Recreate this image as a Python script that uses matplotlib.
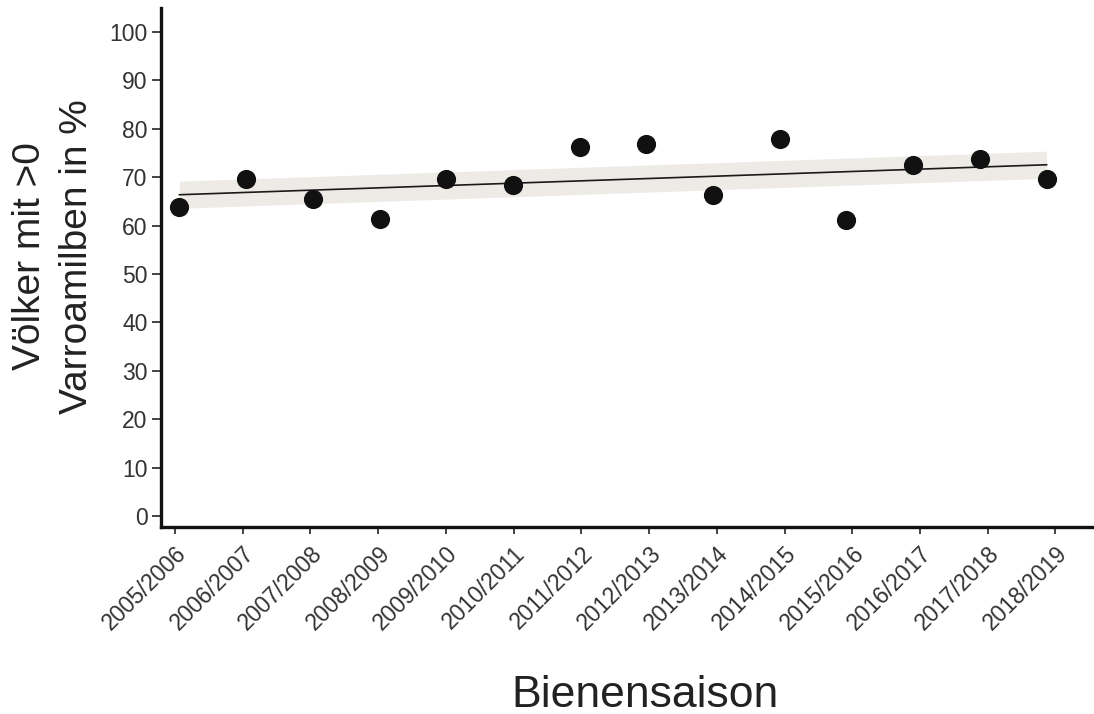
import numpy as np
import matplotlib
matplotlib.use('agg')
import matplotlib.pyplot as plt

seasons = ['2005/2006', '2006/2007', '2007/2008', '2008/2009', '2009/2010',
           '2010/2011', '2011/2012', '2012/2013', '2013/2014', '2014/2015',
           '2015/2016', '2016/2017', '2017/2018', '2018/2019']
pct_mites = [63.9, 69.6, 65.5, 61.4, 69.6, 68.4, 76.2, 76.9, 66.3, 77.9,
             61.2, 72.5, 73.7, 69.6]
band_halfwidth = 2.8

plt.rcParams['font.family'] = ['Liberation Sans', 'DejaVu Sans']

idx = np.arange(len(seasons))
# points sit slightly off the tick marks in the original
px = 0.065 + 0.985 * idx
slope, icpt = np.polyfit(idx, pct_mites, 1)
fit = icpt + slope * idx

fig = plt.figure(figsize=(10.94, 7.14), dpi=100)
ax = fig.add_axes([0.1469, 0.2623, 0.8531, 0.7261])

ax.fill_between(px, fit - band_halfwidth, fit + band_halfwidth,
                color='#eeebe7', lw=0, zorder=1)
ax.plot(px, fit, color='#1a1a1a', lw=1.2, zorder=2)
ax.plot(px, pct_mites, 'o', color='#111111', ms=12.8, zorder=3)

ax.set_xlim(-0.211, 13.57)
ax.set_ylim(-2.2, 104.9)
ax.set_yticks(np.arange(0, 101, 10))
ax.set_xticks(idx)
ax.set_xticklabels(seasons, rotation=45, ha='right', rotation_mode='anchor')

for s in ['top', 'right']:
    ax.spines[s].set_visible(False)
for s in ['left', 'bottom']:
    ax.spines[s].set_linewidth(2.4)
    ax.spines[s].set_color('#111111')

ax.tick_params(axis='y', length=6.5, width=1.1, pad=3, labelsize=16.5,
               colors='#111111', labelcolor='#333333')
ax.tick_params(axis='x', length=5, width=1.1, pad=6, labelsize=16.5,
               colors='#111111', labelcolor='#333333')

fig.text(0.049, 0.641, 'Völker mit >0\nVarroamilben in %', rotation=90,
         ha='center', va='center', fontsize=28, color='#222222',
         linespacing=1.38)
fig.text(0.5896, 0.0098, 'Bienensaison', ha='center', va='baseline',
         fontsize=32, color='#222222')

plt.savefig('out.png', dpi=100)
